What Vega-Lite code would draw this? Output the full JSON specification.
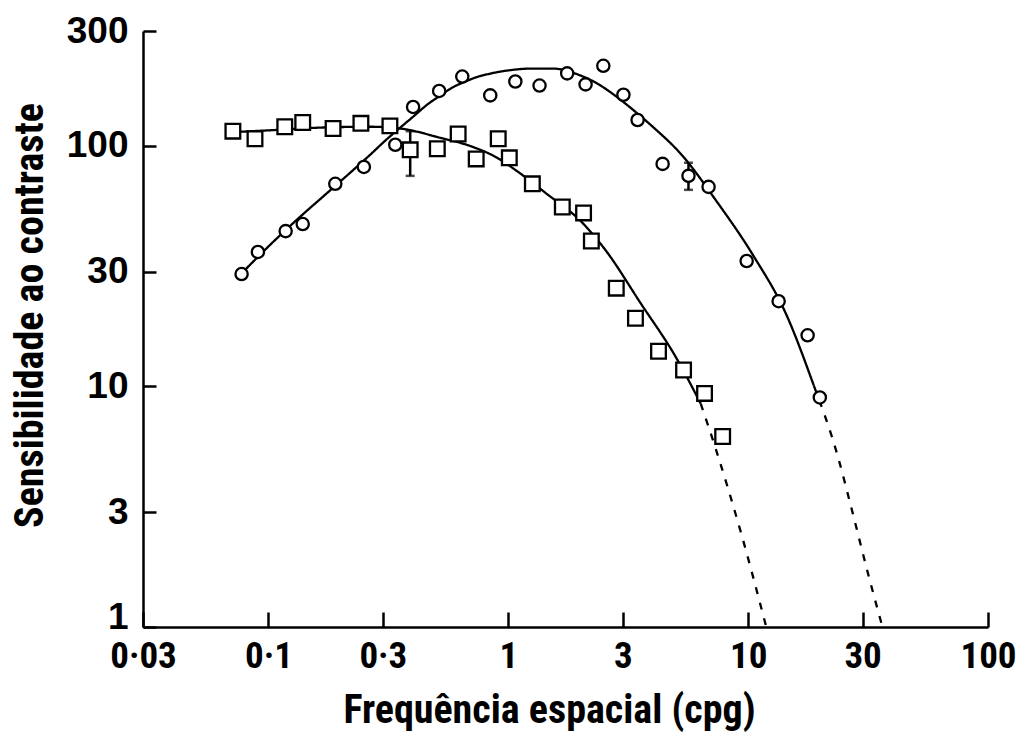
{
  "$schema": "https://vega.github.io/schema/vega-lite/v6.json",
  "width": 845,
  "height": 596,
  "autosize": {"type": "none"},
  "padding": {"left": 143, "top": 31, "right": 39, "bottom": 106},
  "background": "white",
  "config": {
    "view": {"stroke": null},
    "axis": {
      "grid": false,
      "domainColor": "black",
      "domainWidth": 2.5,
      "tickColor": "black",
      "tickWidth": 2.5,
      "labelColor": "black",
      "titleColor": "black",
      "labelOverlap": false,
      "labelFlush": false,
      "labelFontWeight": "bold",
      "titleFontWeight": "bold"
    }
  },
  "datasets": {
    "points": [
      {"f": 0.0773, "s": 29.3, "shape": "circle"},
      {"f": 0.0904, "s": 36.2, "shape": "circle"},
      {"f": 0.118, "s": 44.2, "shape": "circle"},
      {"f": 0.139, "s": 47.3, "shape": "circle"},
      {"f": 0.19, "s": 69.5, "shape": "circle"},
      {"f": 0.25, "s": 81.7, "shape": "circle"},
      {"f": 0.338, "s": 101, "shape": "circle"},
      {"f": 0.401, "s": 145, "shape": "circle"},
      {"f": 0.515, "s": 169, "shape": "circle"},
      {"f": 0.643, "s": 194, "shape": "circle"},
      {"f": 0.841, "s": 162, "shape": "circle"},
      {"f": 1.07, "s": 185, "shape": "circle"},
      {"f": 1.35, "s": 178, "shape": "circle"},
      {"f": 1.76, "s": 200, "shape": "circle"},
      {"f": 2.1, "s": 180, "shape": "circle"},
      {"f": 2.49, "s": 215, "shape": "circle"},
      {"f": 3.02, "s": 163, "shape": "circle"},
      {"f": 3.46, "s": 128, "shape": "circle"},
      {"f": 4.4, "s": 84.1, "shape": "circle"},
      {"f": 5.64, "s": 75, "shape": "circle"},
      {"f": 6.84, "s": 67.5, "shape": "circle"},
      {"f": 9.86, "s": 33.2, "shape": "circle"},
      {"f": 13.4, "s": 22.6, "shape": "circle"},
      {"f": 17.7, "s": 16.3, "shape": "circle"},
      {"f": 19.9, "s": 9.0, "shape": "circle"},
      {"f": 0.0711, "s": 115, "shape": "square"},
      {"f": 0.0879, "s": 107, "shape": "square"},
      {"f": 0.117, "s": 120, "shape": "square"},
      {"f": 0.139, "s": 125, "shape": "square"},
      {"f": 0.186, "s": 118, "shape": "square"},
      {"f": 0.243, "s": 124, "shape": "square"},
      {"f": 0.321, "s": 121, "shape": "square"},
      {"f": 0.39, "s": 96.2, "shape": "square"},
      {"f": 0.506, "s": 97.2, "shape": "square"},
      {"f": 0.618, "s": 112, "shape": "square"},
      {"f": 0.735, "s": 88.2, "shape": "square"},
      {"f": 0.908, "s": 107, "shape": "square"},
      {"f": 1.01, "s": 89.1, "shape": "square"},
      {"f": 1.26, "s": 69.5, "shape": "square"},
      {"f": 1.68, "s": 55.7, "shape": "square"},
      {"f": 2.06, "s": 52.6, "shape": "square"},
      {"f": 2.22, "s": 40.2, "shape": "square"},
      {"f": 2.82, "s": 25.6, "shape": "square"},
      {"f": 3.39, "s": 19.2, "shape": "square"},
      {"f": 4.23, "s": 14.0, "shape": "square"},
      {"f": 5.38, "s": 11.7, "shape": "square"},
      {"f": 6.58, "s": 9.35, "shape": "square"},
      {"f": 7.83, "s": 6.19, "shape": "square"}
    ],
    "curves": [
      {"g": "c-solid", "seg": "solid", "i": 1, "f": 0.0768, "s": 29.3},
      {"g": "c-solid", "seg": "solid", "i": 2, "f": 0.1015, "s": 38.7},
      {"g": "c-solid", "seg": "solid", "i": 3, "f": 0.1353, "s": 50.6},
      {"g": "c-solid", "seg": "solid", "i": 4, "f": 0.1721, "s": 62.5},
      {"g": "c-solid", "seg": "solid", "i": 5, "f": 0.2189, "s": 77.2},
      {"g": "c-solid", "seg": "solid", "i": 6, "f": 0.2653, "s": 91.7},
      {"g": "c-solid", "seg": "solid", "i": 7, "f": 0.3064, "s": 104.9},
      {"g": "c-solid", "seg": "solid", "i": 8, "f": 0.354, "s": 118.9},
      {"g": "c-solid", "seg": "solid", "i": 9, "f": 0.4012, "s": 132.1},
      {"g": "c-solid", "seg": "solid", "i": 10, "f": 0.4589, "s": 148.2},
      {"g": "c-solid", "seg": "solid", "i": 11, "f": 0.52, "s": 161.6},
      {"g": "c-solid", "seg": "solid", "i": 12, "f": 0.5837, "s": 174.5},
      {"g": "c-solid", "seg": "solid", "i": 13, "f": 0.6612, "s": 184.8},
      {"g": "c-solid", "seg": "solid", "i": 14, "f": 0.728, "s": 192.0},
      {"g": "c-solid", "seg": "solid", "i": 15, "f": 0.8411, "s": 199.5},
      {"g": "c-solid", "seg": "solid", "i": 16, "f": 0.926, "s": 203.4},
      {"g": "c-solid", "seg": "solid", "i": 17, "f": 1.0695, "s": 207.4},
      {"g": "c-solid", "seg": "solid", "i": 18, "f": 1.2355, "s": 209.4},
      {"g": "c-solid", "seg": "solid", "i": 19, "f": 1.5416, "s": 209.4},
      {"g": "c-solid", "seg": "solid", "i": 20, "f": 1.9048, "s": 199.5},
      {"g": "c-solid", "seg": "solid", "i": 21, "f": 2.3527, "s": 181.3},
      {"g": "c-solid", "seg": "solid", "i": 22, "f": 2.7184, "s": 164.7},
      {"g": "c-solid", "seg": "solid", "i": 23, "f": 3.2315, "s": 144.0},
      {"g": "c-solid", "seg": "solid", "i": 24, "f": 3.9164, "s": 122.3},
      {"g": "c-solid", "seg": "solid", "i": 25, "f": 5.329, "s": 90.8},
      {"g": "c-solid", "seg": "solid", "i": 26, "f": 7.3155, "s": 59.6},
      {"g": "c-solid", "seg": "solid", "i": 27, "f": 10.54, "s": 34.8},
      {"g": "c-solid", "seg": "solid", "i": 28, "f": 14.34, "s": 20.15},
      {"g": "c-solid", "seg": "solid", "i": 29, "f": 18.77, "s": 10.1},
      {"g": "c-dash", "seg": "dashed", "i": 1, "f": 18.77, "s": 10.1},
      {"g": "c-dash", "seg": "dashed", "i": 2, "f": 23.6, "s": 5.16},
      {"g": "c-dash", "seg": "dashed", "i": 3, "f": 26.8, "s": 3.19},
      {"g": "c-dash", "seg": "dashed", "i": 4, "f": 31.5, "s": 1.69},
      {"g": "c-dash", "seg": "dashed", "i": 5, "f": 36.3, "s": 1.0},
      {"g": "s-solid", "seg": "solid", "i": 1, "f": 0.0711, "s": 114},
      {"g": "s-solid", "seg": "solid", "i": 2, "f": 0.1014, "s": 116},
      {"g": "s-solid", "seg": "solid", "i": 3, "f": 0.164, "s": 119},
      {"g": "s-solid", "seg": "solid", "i": 4, "f": 0.265, "s": 120},
      {"g": "s-solid", "seg": "solid", "i": 5, "f": 0.354, "s": 118},
      {"g": "s-solid", "seg": "solid", "i": 6, "f": 0.52, "s": 108},
      {"g": "s-solid", "seg": "solid", "i": 7, "f": 0.694, "s": 99.8},
      {"g": "s-solid", "seg": "solid", "i": 8, "f": 0.9, "s": 89.1},
      {"g": "s-solid", "seg": "solid", "i": 9, "f": 1.07, "s": 79.4},
      {"g": "s-solid", "seg": "solid", "i": 10, "f": 1.43, "s": 63.7},
      {"g": "s-solid", "seg": "solid", "i": 11, "f": 2.04, "s": 47.8},
      {"g": "s-solid", "seg": "solid", "i": 12, "f": 2.54, "s": 36.9},
      {"g": "s-solid", "seg": "solid", "i": 13, "f": 3.56, "s": 22.2},
      {"g": "s-solid", "seg": "solid", "i": 14, "f": 4.98, "s": 13.3},
      {"g": "s-solid", "seg": "solid", "i": 15, "f": 6.34, "s": 8.49},
      {"g": "s-dash", "seg": "dashed", "i": 1, "f": 6.34, "s": 8.49},
      {"g": "s-dash", "seg": "dashed", "i": 2, "f": 7.32, "s": 5.52},
      {"g": "s-dash", "seg": "dashed", "i": 3, "f": 9.31, "s": 2.49},
      {"g": "s-dash", "seg": "dashed", "i": 4, "f": 11.9, "s": 1.0}
    ],
    "errs": [
      {"f": 0.39, "lo": 75, "hi": 115},
      {"f": 5.64, "lo": 65.6, "hi": 85}
    ]
  },
  "layer": [
    {
      "data": {"name": "curves"},
      "mark": {"type": "line", "color": "black", "strokeWidth": 2.3, "interpolate": "monotone", "clip": true},
      "encoding": {
        "x": {
          "field": "f", "type": "quantitative",
          "scale": {"type": "log", "domain": [0.03, 100], "nice": false},
          "axis": {
            "values": [0.03, 0.1, 0.3, 1, 3, 10, 30, 100],
            "labelExpr": "replace(toString(datum.value), '.', '·')",
            "tickSize": -15,
            "labelPadding": 26,
            "labelFont": "Liberation Sans Narrow, Roboto Condensed, DejaVu Sans Condensed, Liberation Sans",
            "labelFontSize": 37,
            "title": "Frequência espacial (cpg)",
            "titleFont": "Liberation Sans Narrow, Roboto Condensed, DejaVu Sans Condensed, Liberation Sans",
            "titleFontSize": 40,
            "titleX": 406,
            "titleY": 95,
            "titleBaseline": "alphabetic",
            "titleAnchor": "middle",
            "titleAlign": "center"
          }
        },
        "y": {
          "field": "s", "type": "quantitative",
          "scale": {"type": "log", "domain": [1, 300], "nice": false},
          "axis": {
            "values": [1, 3, 10, 30, 100, 300],
            "labelExpr": "toString(datum.value)",
            "labelOffset": {"condition": {"test": "datum.value == 1", "value": -10}, "value": 0},
            "tickSize": -13,
            "labelPadding": 28,
            "labelFont": "Liberation Sans",
            "labelFontSize": 37,
            "title": "Sensibilidade ao contraste",
            "titleFont": "Liberation Sans Narrow, Roboto Condensed, DejaVu Sans Condensed, Liberation Sans",
            "titleFontSize": 40,
            "titleX": -113,
            "titleY": 284,
            "titleBaseline": "middle",
            "titleAngle": -90,
            "titleAnchor": "middle",
            "titleAlign": "center"
          }
        },
        "detail": {"field": "g"},
        "order": {"field": "i", "type": "quantitative"},
        "strokeDash": {
          "field": "seg", "type": "nominal",
          "scale": {"domain": ["solid", "dashed"], "range": [[1, 0], [7, 9]]},
          "legend": null
        }
      }
    },
    {
      "data": {"name": "errs"},
      "mark": {"type": "rule", "color": "black", "strokeWidth": 2.5},
      "encoding": {
        "x": {"field": "f", "type": "quantitative"},
        "y": {"field": "lo", "type": "quantitative"},
        "y2": {"field": "hi"}
      }
    },
    {
      "data": {"name": "errs"},
      "mark": {"type": "tick", "orient": "horizontal", "color": "black", "size": 9, "thickness": 2.5},
      "encoding": {
        "x": {"field": "f", "type": "quantitative"},
        "y": {"field": "lo", "type": "quantitative"}
      }
    },
    {
      "data": {"name": "errs"},
      "mark": {"type": "tick", "orient": "horizontal", "color": "black", "size": 9, "thickness": 2.5},
      "encoding": {
        "x": {"field": "f", "type": "quantitative"},
        "y": {"field": "hi", "type": "quantitative"}
      }
    },
    {
      "data": {"name": "points"},
      "mark": {"type": "point", "filled": false, "fill": "white", "fillOpacity": 1, "stroke": "black", "strokeWidth": 2.3, "opacity": 1},
      "encoding": {
        "x": {"field": "f", "type": "quantitative"},
        "y": {"field": "s", "type": "quantitative"},
        "shape": {
          "field": "shape", "type": "nominal",
          "scale": {"domain": ["circle", "square"], "range": ["circle", "square"]},
          "legend": null
        },
        "size": {
          "field": "shape", "type": "nominal",
          "scale": {"domain": ["circle", "square"], "range": [150, 215]},
          "legend": null
        }
      }
    }
  ]
}
